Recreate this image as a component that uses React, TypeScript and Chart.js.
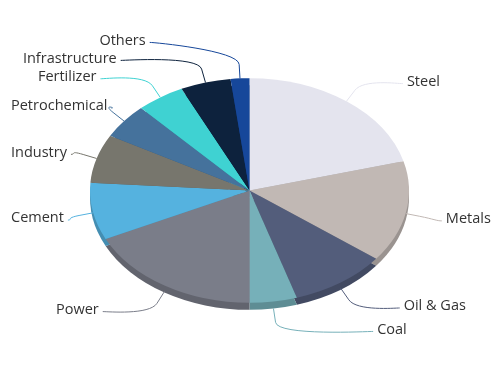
import React, { useEffect, useRef } from "react";
import { Chart, registerables } from "chart.js";

Chart.register(...registerables);

const categories = [
  "Steel",
  "Metals",
  "Oil & Gas",
  "Coal",
  "Power",
  "Cement",
  "Industry",
  "Petrochemical",
  "Fertilizer",
  "Infrastructure",
  "Others",
];
const shares = [20.8, 14.6, 9.8, 4.8, 17.9, 8.2, 7.0, 5.0, 4.9, 5.1, 1.9];
const colors = [
  "#e4e4ee",
  "#c1b8b4",
  "#535d7b",
  "#76b0b9",
  "#7a7d89",
  "#55b2df",
  "#77766d",
  "#45729c",
  "#3fd2d2",
  "#0d223d",
  "#16479a",
];

const TILT = 112 / 159;
const DEPTH = 7;

function shade(hex: string, f: number): string {
  const n = parseInt(hex.slice(1), 16);
  const r = Math.round(((n >> 16) & 255) * f);
  const g = Math.round(((n >> 8) & 255) * f);
  const b = Math.round((n & 255) * f);
  return `rgb(${r},${g},${b})`;
}

let tiltActive = false;

const tiltPlugin = {
  id: "tilt",
  beforeDatasetsDraw(chart: any) {
    const arcs = chart.getDatasetMeta(0).data as any[];
    tiltActive = false;
    if (!arcs.length) return;
    const { x: cx, y: cy } = arcs[0];
    const ctx = chart.ctx as CanvasRenderingContext2D;
    ctx.save();
    tiltActive = true;
    ctx.translate(cx, cy);
    ctx.scale(1, TILT);
    ctx.translate(-cx, -cy);
    ctx.save();
    ctx.translate(0, DEPTH / TILT);
    arcs.forEach((arc, i) => {
      const p = arc.getProps(["startAngle", "endAngle", "outerRadius"], true);
      ctx.beginPath();
      ctx.moveTo(cx, cy);
      ctx.arc(cx, cy, p.outerRadius, p.startAngle, p.endAngle);
      ctx.closePath();
      ctx.fillStyle = shade(colors[i], 0.8);
      ctx.fill();
    });
    ctx.restore();
  },
  afterDatasetsDraw(chart: any) {
    if (tiltActive) chart.ctx.restore();
    tiltActive = false;
  },
};

const labelPlugin = {
  id: "pieLabels",
  afterDraw(chart: any) {
    const arcs = chart.getDatasetMeta(0).data as any[];
    if (!arcs.length) return;
    const ctx = chart.ctx as CanvasRenderingContext2D;
    const { x: cx, y: cy } = arcs[0];
    const rx = arcs[0].outerRadius;
    const ry = rx * TILT;
    const labelRY = 139;
    const labelShift = 1.5;
    const RC = 168.7;
    const RS = 29.8;
    const gap = 18;
    const W = chart.width;
    ctx.save();
    ctx.font = '14.5px "Open Sans", sans-serif';
    ctx.textBaseline = "middle";

    const items = arcs.map((arc, i) => {
      const a = (arc.startAngle + arc.endAngle) / 2 + Math.PI / 2; // clockwise from top
      const s = Math.sin(a);
      const c = Math.cos(a);
      return {
        i,
        s,
        c,
        right: s >= 0,
        y: cy + labelShift - labelRY * c,
        w: ctx.measureText(categories[i]).width,
      };
    });

    const left = items.filter((d) => !d.right).sort((a, b) => a.y - b.y);
    for (let k = left.length - 2; k >= 0; k--) {
      if (left[k].y > left[k + 1].y - gap) left[k].y = left[k + 1].y - gap;
    }
    const right = items.filter((d) => d.right).sort((a, b) => a.y - b.y);
    for (let k = 1; k < right.length; k++) {
      if (right[k].y < right[k - 1].y + gap) right[k].y = right[k - 1].y + gap;
    }

    items.forEach((d) => {
      const dy = d.y - (cy + labelShift);
      const off = Math.sqrt(Math.max(0, RC * RC - dy * dy)) + RS;
      let tx: number;
      let lx: number;
      if (d.right) {
        tx = cx + off;
        if (tx + d.w > W - 9) tx = W - 9 - d.w;
        lx = tx - 4;
      } else {
        let te = cx - off;
        if (te - d.w < 11) te = 11 + d.w;
        tx = te - d.w;
        lx = te + 4;
      }
      const ly = d.y + 2;
      const lower = Math.max(0, -d.c) * DEPTH;
      const touch = { x: cx + rx * d.s, y: cy - ry * d.c + lower };
      const brk = { x: cx + (rx + 14) * d.s, y: cy - (ry + 14) * d.c + lower };
      ctx.beginPath();
      ctx.moveTo(lx, ly);
      ctx.bezierCurveTo(
        lx + (d.right ? -5 : 5),
        ly,
        2 * brk.x - touch.x,
        2 * brk.y - touch.y,
        brk.x,
        brk.y
      );
      ctx.lineTo(touch.x, touch.y);
      ctx.strokeStyle = colors[d.i];
      ctx.lineWidth = 1;
      ctx.stroke();

      ctx.fillStyle = "#333333";
      ctx.textAlign = "left";
      ctx.fillText(categories[d.i], tx, d.y);
    });
    ctx.restore();
  },
};

export default function App() {
  const ref = useRef<HTMLCanvasElement | null>(null);
  useEffect(() => {
    if (!ref.current) return;
    const chart = new Chart(ref.current, {
      type: "pie",
      data: {
        labels: categories,
        datasets: [
          {
            data: shares,
            backgroundColor: colors,
            borderWidth: 0,
            clip: false as any,
          },
        ],
      },
      options: {
        responsive: true,
        maintainAspectRatio: false,
        animation: false,
        events: [],
        layout: { padding: { left: 90, right: 91, top: 31, bottom: 36 } },
        plugins: {
          legend: { display: false },
          tooltip: { enabled: false },
        },
      },
      plugins: [tiltPlugin, labelPlugin],
    });
    return () => chart.destroy();
  }, []);
  return (
    <div
      style={{
        position: "absolute",
        left: 0,
        top: 0,
        width: 500,
        height: 386,
        background: "#ffffff",
      }}
    >
      <canvas ref={ref} />
    </div>
  );
}
